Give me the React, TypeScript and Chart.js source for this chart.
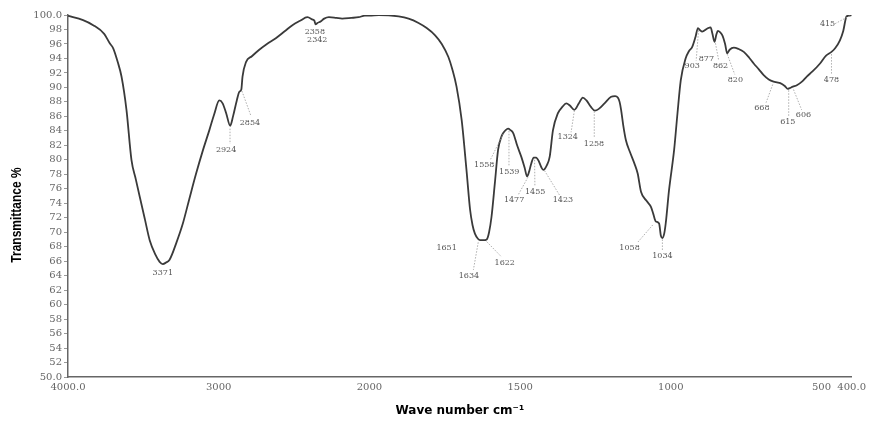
import React, { useEffect, useRef } from "react";
import { Chart, registerables, LinearScale } from "chart.js";

Chart.register(...registerables);

// ---- Spectrum data (wavenumber cm-1, transmittance %) ----
const wavenumbers = [
  4000, 3900, 3833, 3760, 3723, 3700, 3670, 3645, 3612, 3579, 3550, 3524, 3490, 3458, 3420, 3392, 3371, 3350, 3326, 3280,
  3238, 3195, 3150, 3105, 3062, 3030, 2996, 2974, 2950, 2924, 2905, 2880, 2863, 2850, 2842, 2819, 2780, 2731, 2680, 2621,
  2560, 2511, 2460, 2412, 2380, 2365, 2357, 2345, 2324, 2300, 2269, 2220, 2181, 2120, 2071, 2030, 2000, 1969, 1903, 1870,
  1837, 1810, 1782, 1760, 1738, 1725, 1711, 1694, 1678, 1666, 1658, 1650, 1640, 1633, 1622, 1611, 1603, 1595, 1584, 1573,
  1562, 1556, 1548, 1540, 1532, 1523, 1510, 1496, 1485, 1477, 1470, 1463, 1455, 1447, 1438, 1430, 1423, 1412, 1402, 1391,
  1375, 1360, 1347, 1335, 1320, 1305, 1292, 1280, 1265, 1252, 1240, 1220, 1198, 1185, 1176, 1170, 1165, 1158, 1149, 1135,
  1121, 1110, 1099, 1080, 1066, 1058, 1050, 1039, 1033, 1028, 1022, 1017, 1006, 989, 978, 967, 951, 940, 929, 918,
  910, 903, 896, 880, 868, 862, 855, 849, 844, 836, 829, 820, 813, 805, 791, 775, 758, 740, 725, 708,
  692, 675, 659, 648, 637, 622, 612, 606, 595, 582, 565, 549, 530, 505, 485, 467, 455, 439, 428, 417,
  410, 400,
];
const transmittance = [
  99.9, 99.3, 98.6, 97.4, 96.1, 95.4, 93.5, 91.5, 86.9, 80.0, 77.3, 74.9, 71.8, 68.9, 66.9, 65.9, 65.6, 65.8, 66.2, 68.6,
  71.2, 74.6, 78.1, 81.3, 84.1, 86.3, 88.2, 87.8, 86.4, 84.7, 86.0, 88.2, 89.4, 89.7, 91.5, 93.5, 94.3, 95.2, 96.0, 96.8,
  97.8, 98.6, 99.2, 99.7, 99.4, 99.2, 98.7, 98.9, 99.1, 99.5, 99.7, 99.6, 99.5, 99.6, 99.7, 99.9, 99.9, 100.0, 99.8, 99.5,
  98.9, 98.2, 97.2, 96.0, 94.2, 92.5, 90.1, 85.5, 78.6, 73.1, 71.0, 69.8, 69.1, 68.9, 68.9, 69.0, 70.0, 72.1, 76.7, 81.4,
  83.2, 83.7, 84.1, 84.3, 84.1, 83.7, 82.0, 80.4, 78.9, 77.7, 78.4, 79.5, 80.3, 80.3, 79.8, 79.0, 78.6, 79.2, 80.4, 84.1,
  86.4, 87.3, 87.8, 87.5, 86.9, 87.8, 88.6, 88.2, 87.3, 86.8, 87.0, 87.8, 88.7, 88.8, 88.6, 88.0, 86.9, 84.8, 82.7, 81.0,
  79.5, 78.1, 75.6, 74.3, 73.5, 72.5, 71.5, 71.2, 69.5, 69.2, 69.8, 71.2, 75.8, 81.4, 86.4, 91.0, 94.0, 95.0, 95.6, 97.0,
  98.2, 97.9, 97.7, 98.1, 98.3, 97.4, 96.3, 97.3, 97.8, 97.6, 97.2, 96.0, 94.7, 95.2, 95.5, 95.3, 94.9, 94.1, 93.3, 92.5,
  91.7, 91.1, 90.8, 90.7, 90.6, 90.2, 89.8, 89.9, 90.1, 90.3, 90.8, 91.5, 92.2, 93.3, 94.4, 94.9, 95.4, 96.5, 97.8, 99.8,
  99.9, 100.0,
];

// ---- Axis ticks ----
const xTickValues = [4000, 3000, 2000, 1500, 1000, 500, 400];
const xTickLabels = ["4000.0", "3000", "2000", "1500", "1000", "500", "400.0"];
const yTickEnds = { min: 50, max: 100, step: 2 };

// ---- Peak annotations ----
const peakTexts = [
  "3371", "2924", "2854", "2358", "2342", "1651", "1634", "1622", "1558", "1539", "1477", "1455", "1423",
  "1324", "1258", "1058", "1034", "903", "877", "862", "820", "668", "615", "606", "478", "415",
];
const peakLabelWn = [
  3371, 2951, 2793, 2362, 2346, 1744, 1670, 1551, 1619, 1536, 1520, 1450, 1358,
  1342, 1255, 1137, 1028, 929, 882, 835, 786, 698, 612, 560, 467, 480,
];
const peakLabelT = [
  64.4, 81.3, 85.1, 97.6, 96.6, 67.8, 63.9, 65.7, 79.3, 78.3, 74.4, 75.5, 74.4,
  83.1, 82.2, 67.8, 66.7, 92.9, 93.9, 92.9, 91.0, 87.1, 85.2, 86.2, 91.0, 98.8,
];
// leader: [wn from, T from, wn to, T to] or null
const peakLeaders: (number[] | null)[] = [
  null, [2925, 84.3, 2925, 82.2], [2846, 89.5, 2785, 86.0], null, null, null, [1639, 68.6, 1655, 64.8],
  [1611, 68.7, 1562, 66.6], [1556, 83.6, 1600, 79.9], [1537, 84.0, 1537, 79.2], [1474, 77.6, 1507, 75.1],
  [1452, 80.0, 1451, 76.3], [1419, 78.5, 1369, 75.1], [1320, 86.8, 1331, 83.8], [1254, 86.7, 1254, 83.0],
  [1060, 71.0, 1110, 68.6], [1028, 69.0, 1028, 67.4], [908, 97.9, 916, 93.7], null, [852, 96.1, 841, 93.7],
  [813, 94.6, 788, 91.8], [662, 90.4, 684, 87.9], [609, 89.6, 609, 86.0], [593, 89.7, 566, 86.9],
  [467, 94.6, 467, 91.8], [455, 98.8, 406, 99.9],
];

// ---- FTIR x scale: 4000-2000 at 1x, 2000-400 at 2x ----
function wnToDecimal(w: number): number {
  const u = w >= 2000 ? 4000 - w : 2000 + 2 * (2000 - w);
  return u / 5200;
}
function decimalToWn(d: number): number {
  const u = d * 5200;
  return u <= 2000 ? 4000 - u : 2000 - (u - 2000) / 2;
}

class FtirScale extends (LinearScale as any) {
  static id = "ftir";
  static defaults = (LinearScale as any).defaults;
  buildTicks() {
    return xTickValues.map((v) => ({ value: v }));
  }
  getPixelForValue(value: number) {
    return (this as any).getPixelForDecimal(wnToDecimal(value));
  }
  getValueForPixel(pixel: number) {
    return decimalToWn((this as any).getDecimalForPixel(pixel));
  }
}
Chart.register(FtirScale as any);

const annotationPlugin = {
  id: "peakAnnotations",
  afterDatasetsDraw(chart: any) {
    const { ctx, scales } = chart;
    const xs = scales.x;
    const ys = scales.y;
    ctx.save();
    ctx.strokeStyle = "#9a9a9a";
    ctx.lineWidth = 0.8;
    ctx.setLineDash([1.5, 1.5]);
    peakLeaders.forEach((l) => {
      if (!l) return;
      ctx.beginPath();
      ctx.moveTo(xs.getPixelForValue(l[0]), ys.getPixelForValue(l[1]));
      ctx.lineTo(xs.getPixelForValue(l[2]), ys.getPixelForValue(l[3]));
      ctx.stroke();
    });
    ctx.setLineDash([]);
    ctx.fillStyle = "#555";
    ctx.font = '8px "DejaVu Serif"';
    ctx.textAlign = "center";
    ctx.textBaseline = "middle";
    peakTexts.forEach((t, i) => {
      ctx.fillText(t, xs.getPixelForValue(peakLabelWn[i]), ys.getPixelForValue(peakLabelT[i]));
    });
    // y axis title
    ctx.fillStyle = "#000";
    ctx.font = 'bold 12px "Liberation Sans"';
    ctx.translate(17, 215);
    ctx.rotate(-Math.PI / 2);
    ctx.scale(1, 1.15);
    ctx.fillText("Transmittance %", 0, 0);
    ctx.restore();
  },
};

export default function App() {
  const ref = useRef<HTMLCanvasElement>(null);
  useEffect(() => {
    document.body.style.margin = "0";
    const points = wavenumbers.map((w, i) => ({ x: w, y: transmittance[i] }));
    const chart = new Chart(ref.current as HTMLCanvasElement, {
      type: "line",
      data: {
        datasets: [
          {
            data: points,
            borderColor: "#3a3a3a",
            borderWidth: 1.8,
            pointRadius: 0,
            fill: false,
            cubicInterpolationMode: "monotone",
          },
        ],
      },
      options: {
        animation: false,
        responsive: false,
        layout: { padding: { top: 15, right: 15, left: 0, bottom: 0 } },
        plugins: { legend: { display: false }, tooltip: { enabled: false } },
        scales: {
          x: {
            type: "ftir" as any,
            min: 400,
            max: 4000,
            grid: { display: false, drawTicks: false },
            border: { display: true, color: "#666", width: 1.5 },
            ticks: {
              autoSkip: false,
              maxRotation: 0,
              padding: 4,
              color: "#666",
              font: { family: "DejaVu Serif", size: 10 },
              callback: (v: any) => {
                const i = xTickValues.indexOf(Number(v));
                return i >= 0 ? xTickLabels[i] : "";
              },
            },
            title: {
              display: true,
              text: "Wave number cm⁻¹",
              color: "#000",
              font: { family: "DejaVu Sans", size: 12, weight: "bold" },
              padding: { top: 0, bottom: 5 },
            },
            afterFit: (s: any) => {
              s.height = 46;
            },
          } as any,
          y: {
            min: yTickEnds.min,
            max: yTickEnds.max,
            grid: {
              display: true,
              drawOnChartArea: false,
              drawTicks: true,
              tickLength: 4,
              color: "#999",
            },
            border: { display: true, color: "#666", width: 1.5 },
            ticks: {
              stepSize: yTickEnds.step,
              autoSkip: false,
              padding: 2,
              color: "#666",
              font: { family: "DejaVu Serif", size: 10 },
              callback: (v: any) => {
                const n = Number(v);
                return n === yTickEnds.min || n === yTickEnds.max ? n.toFixed(1) : String(n);
              },
            },
            afterFit: (s: any) => {
              s.width = 68;
            },
          },
        },
      },
      plugins: [annotationPlugin],
    });
    return () => chart.destroy();
  }, []);
  return (
    <div style={{ width: 870, height: 423 }}>
      <canvas ref={ref} width={870} height={423} />
    </div>
  );
}
